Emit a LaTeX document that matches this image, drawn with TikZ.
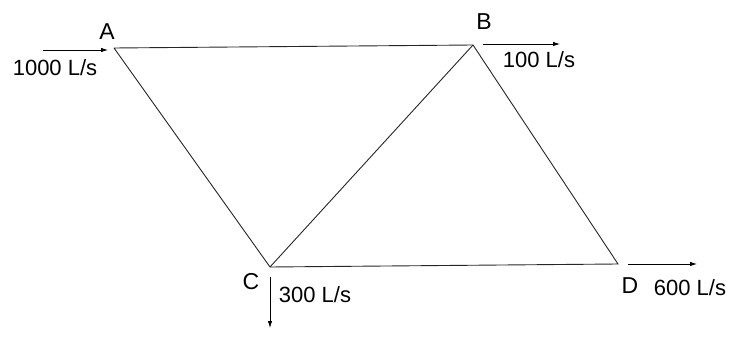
\documentclass[tikz,border=0pt]{standalone}
\usepackage{fontspec}
\setmainfont{Liberation Sans}
\usetikzlibrary{arrows.meta}
\begin{document}
\begin{tikzpicture}[x=1pt,y=-1pt,
  pipe/.style={line width=0.9pt,draw=black!85},
  flow/.style={line width=0.8pt,-{Latex[length=7pt,width=4.5pt]}},
  lbl/.style={font=\fontsize{22}{25}\selectfont,inner sep=0pt},
  nlbl/.style={font=\fontsize{23}{26}\selectfont,inner sep=0pt}]
\useasboundingbox (0,0) rectangle (730,339);
\coordinate (A) at (114,48);
\coordinate (B) at (473,45);
\coordinate (C) at (270,267);
\coordinate (D) at (618,264);
\draw[pipe] (A) -- (B) -- (D) -- (C) -- (A);
\draw[pipe] (C) -- (B);
\coordinate (ain) at (43,50);
\coordinate (aend) at (108,50);
\draw[flow] (ain) -- (aend);
\coordinate (bs) at (483,44);
\coordinate (be) at (560,44);
\draw[flow] (bs) -- (be);
\coordinate (cs) at (270,277);
\coordinate (ce) at (270,328);
\draw[flow] (cs) -- (ce);
\coordinate (ds) at (628,264);
\coordinate (de) at (697,264);
\draw[flow] (ds) -- (de);
\node[nlbl] (la) at (107,32) {A};
\node[nlbl] (lb) at (484,22) {B};
\node[nlbl] (lc) at (251,282) {C};
\node[nlbl] (ld) at (630,286) {D};
\node[lbl] (qa) at (55,68) {1000 L/s};
\node[lbl] (qb) at (539,60) {100 L/s};
\node[lbl] (qc) at (315,295) {300 L/s};
\node[lbl] (qd) at (690,288) {600 L/s};
\end{tikzpicture}
\end{document}
